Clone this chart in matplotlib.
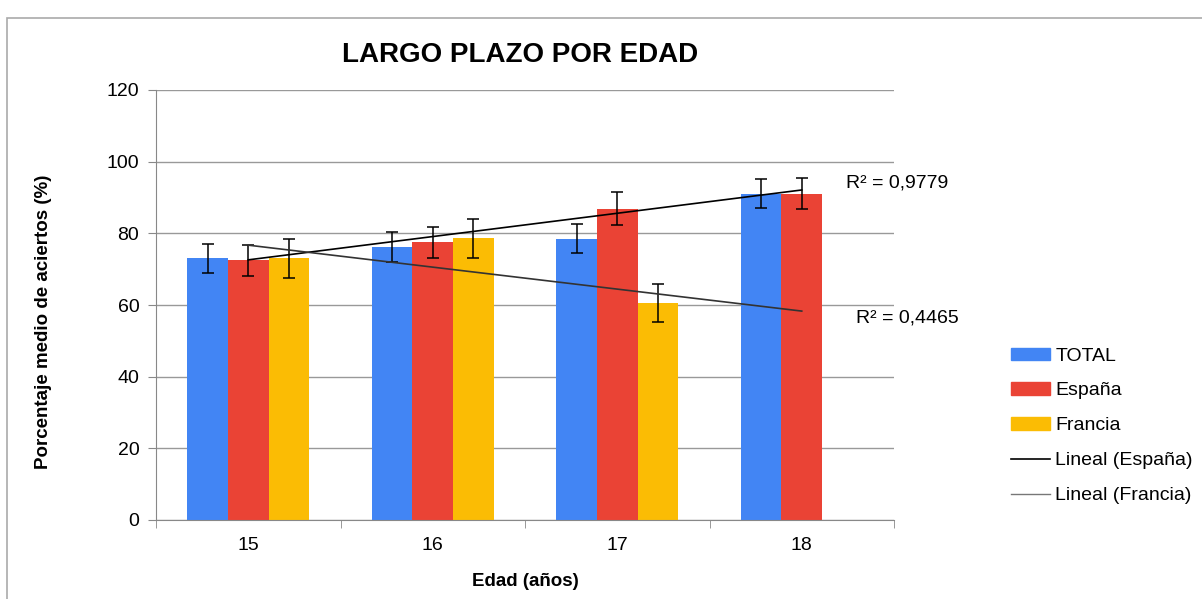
import numpy as np
import matplotlib
matplotlib.use('Agg')
import matplotlib.pyplot as plt
from matplotlib.patches import Rectangle, Patch
from matplotlib.lines import Line2D

plt.rcParams['font.family'] = ['Liberation Sans', 'DejaVu Sans']

# datos
edades = ['15', '16', '17', '18']
total = [73.0, 76.3, 78.5, 91.1]
err_total = [4.0, 4.2, 4.0, 4.1]
espana = [72.5, 77.5, 86.9, 91.1]
err_espana = [4.3, 4.3, 4.5, 4.3]
francia = [73.0, 78.6, 60.6, np.nan]
err_francia = [5.5, 5.5, 5.4, np.nan]

# lineas de tendencia (extremos en 15 y 18)
tend_espana = [72.6, 92.1]
tend_francia = [76.7, 58.3]
r2_espana = 'R² = 0,9779'
r2_francia = 'R² = 0,4465'

c_total = '#4285F4'
c_espana = '#EA4335'
c_francia = '#FBBC04'

fig = plt.figure(figsize=(12.02, 5.99), dpi=100)
ax = fig.add_axes([156 / 1202, 1 - 520 / 599, 738 / 1202, 430 / 599])

x = np.arange(len(edades))
w = 0.22
ek = dict(ecolor='black', elinewidth=1.1, capsize=4, capthick=1.1)
ax.bar(x - w, total, w, color=c_total, yerr=err_total, error_kw=ek, zorder=2)
ax.bar(x, espana, w, color=c_espana, yerr=err_espana, error_kw=ek, zorder=2)
ax.bar(x + w, francia, w, color=c_francia, yerr=err_francia, error_kw=ek, zorder=2)

ax.plot([x[0], x[-1]], tend_espana, color='black', lw=1.2, zorder=3)
ax.plot([x[0], x[-1]], tend_francia, color='#333333', lw=1.2, zorder=3)

ax.text(3.24, 94.0, r2_espana, fontsize=14, va='center', ha='left')
ax.text(3.295, 56.4, r2_francia, fontsize=14, va='center', ha='left')

ax.set_xlim(-0.5, 3.5)
ax.set_ylim(0, 120)
ax.set_yticks(np.arange(0, 121, 20))
ax.set_xticks(x)
ax.set_xticklabels(edades)
ax.set_xticks(np.arange(-0.5, 3.6, 1), minor=True)
ax.tick_params(axis='x', which='major', length=0, pad=12, labelsize=14)
ax.tick_params(axis='x', which='minor', length=6, color='#888888')
ax.tick_params(axis='y', length=6, color='#888888', labelsize=14, pad=6)
ax.yaxis.grid(True, color='#999999', lw=1)
ax.set_axisbelow(True)
for s in ['top', 'right']:
    ax.spines[s].set_visible(False)
for s in ['left', 'bottom']:
    ax.spines[s].set_color('#888888')

ax.set_xlabel('Edad (años)', fontsize=13.5, fontweight='bold', labelpad=14)
ax.set_ylabel('Porcentaje medio de aciertos (%)', fontsize=13.5, fontweight='bold')
ax.yaxis.set_label_coords(-0.141, 0.46)
fig.text(520 / 1202, 1 - 55 / 599, 'LARGO PLAZO POR EDAD', fontsize=20,
         fontweight='bold', ha='center', va='center')

handles = [Patch(color=c_total), Patch(color=c_espana), Patch(color=c_francia),
           Line2D([], [], color='black', lw=1.2), Line2D([], [], color='#777777', lw=1)]
labels = ['TOTAL', 'España', 'Francia', 'Lineal (España)', 'Lineal (Francia)']
fig.legend(handles, labels, loc='upper left', bbox_to_anchor=(993 / 1202, 1 - 330 / 599),
           frameon=False, fontsize=14, handlelength=2.05, handleheight=0.6,
           handletextpad=0.25, labelspacing=0.92)

# marco exterior
fig.add_artist(Rectangle((7 / 1202, -0.1), 1.2, 1.1 - 18 / 599, transform=fig.transFigure,
                         fill=False, edgecolor='#aaaaaa', lw=1.2))

fig.savefig('out.png', dpi=100)
